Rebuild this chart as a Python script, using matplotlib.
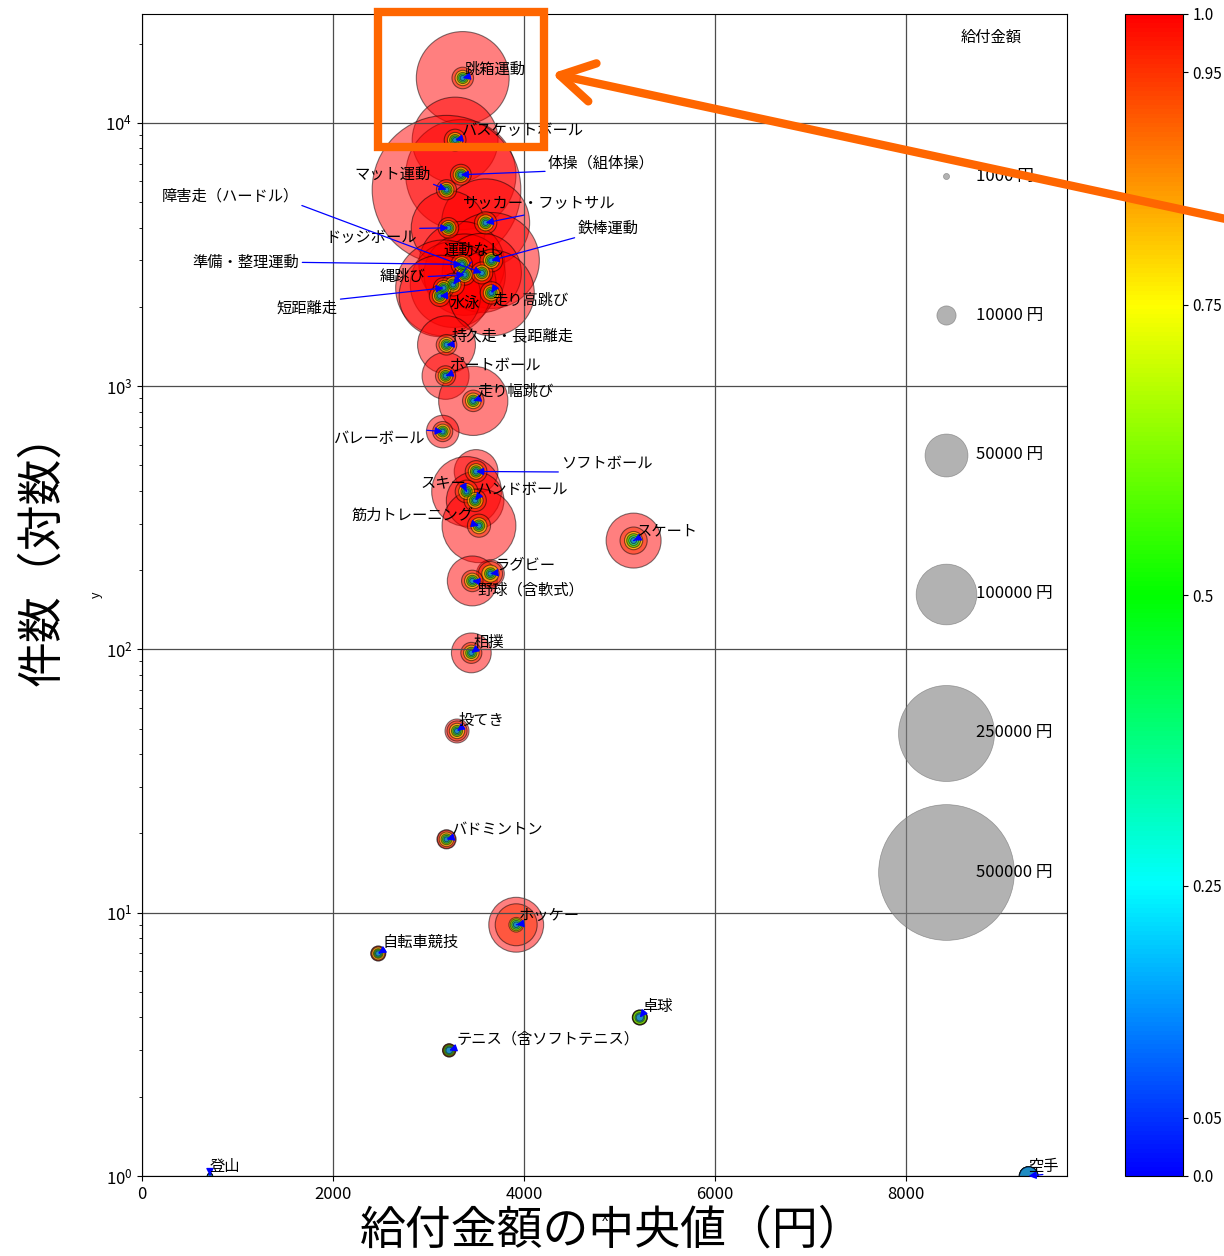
import numpy as np
import matplotlib
matplotlib.use('Agg')
import matplotlib.pyplot as plt
from matplotlib.colors import LinearSegmentedColormap, Normalize
from matplotlib.cm import ScalarMappable
from matplotlib.patches import Rectangle, FancyArrowPatch

plt.rcParams['font.family'] = ['Noto Sans CJK JP', 'DejaVu Sans']

# data: per-sport benefit quantiles (yen) and case counts
sports = ['跳箱運動', 'バスケットボール', '体操（組体操）', 'マット運動', 'サッカー・フットサル',
          'ドッジボール', '鉄棒運動', '準備・整理運動', '縄跳び', '障害走（ハードル）',
          '運動なし', '短距離走', '水泳', '走り高跳び', '持久走・長距離走',
          'ポートボール', '走り幅跳び', 'バレーボール', 'ソフトボール', 'スキー',
          'ハンドボール', '筋力トレーニング', 'スケート', 'ラグビー', '野球（含軟式）',
          '相撲', '投てき', 'バドミントン', 'ホッケー', '自転車競技',
          '卓球', 'テニス（含ソフトテニス）', '登山', '空手']
counts = [14800, 8600, 6350, 5570, 4170,
          3990, 3000, 2900, 2650, 2690,
          2430, 2360, 2200, 2260, 1435,
          1094, 879, 672, 474, 398,
          368, 295, 259, 194, 182,
          97, 49, 19, 9, 7,
          4, 3, 1, 1]
q005 = [760, 720, 780, 700, 800, 720, 820, 750, 760, 790, 700, 690, 680, 800, 700,
        700, 780, 700, 800, 780, 790, 780, 1000, 800, 780, 780, 750, 700, 900, 800,
        1500, 1200, 712, 9288]
q025 = [1700, 1650, 1700, 1600, 1800, 1650, 1800, 1700, 1700, 1800, 1600, 1550, 1550, 1800, 1600,
        1600, 1750, 1550, 1800, 1700, 1750, 1750, 2500, 1800, 1750, 1700, 1650, 1600, 2000, 1500,
        2500, 2000, 712, 9288]
q050 = [3360, 3280, 3340, 3190, 3600, 3210, 3660, 3350, 3380, 3560, 3260, 3160, 3120, 3660, 3190,
        3180, 3470, 3150, 3500, 3400, 3490, 3530, 5150, 3650, 3460, 3450, 3300, 3190, 3920, 2475,
        5215, 3218, 712, 9288]
q075 = [6400, 6300, 6300, 5900, 7000, 6000, 7000, 6400, 6300, 6800, 6500, 6000, 6000, 7000, 6000,
        5800, 6600, 6000, 6600, 6800, 6800, 7000, 9000, 8000, 6500, 6500, 6400, 5800, 5800, 4500,
        5600, 4000, 712, 9288]
q095 = [12600, 12800, 11800, 11000, 13500, 11500, 14000, 12500, 12000, 13000, 14000, 11500, 12000, 13500, 11500,
        11000, 12500, 11000, 12800, 14000, 13500, 14500, 20000, 16000, 12500, 12000, 11000, 9000, 47700, 5800,
        6000, 4600, 712, 9288]
q100 = [234000, 200000, 330000, 600000, 210000, 150000, 250000, 200000, 180000, 170000, 200000, 250000, 180000, 200000, 91000,
        60000, 130000, 28800, 52000, 132000, 90000, 148000, 82000, 21000, 67600, 43000, 15600, 10000, 81700, 6100,
        6100, 4800, 712, 9288]
levels = [0.05, 0.25, 0.5, 0.75, 0.95, 1.0]
cbar_ticks = [0.0, 0.05, 0.25, 0.5, 0.75, 0.95, 1.0]
legend_yen = [1000, 10000, 50000, 100000, 250000, 500000]

# label placement (pixels from the point, +dy = down)
label_offsets = {
    '跳箱運動': (2, -9), 'バスケットボール': (6, -10), '体操（組体操）': (87, -12),
    'マット運動': (-92, -15), 'サッカー・フットサル': (-24, -19), 'ドッジボール': (-123, 9),
    '鉄棒運動': (86, -32), '準備・整理運動': (-269, -2), '縄跳び': (-85, 2),
    '障害走（ハードル）': (-320, -77), '運動なし': (-10, -34), '短距離走': (-167, 20),
    '水泳': (10, 8), '走り高跳び': (1, 7), '持久走・長距離走': (5, -9),
    'ポートボール': (4, -10), '走り幅跳び': (4, -10), 'バレーボール': (-110, 7),
    'ソフトボール': (85, -8), 'スキー': (-46, -9), 'ハンドボール': (2, -11),
    '筋力トレーニング': (-127, -10), 'スケート': (3, -10), 'ラグビー': (4, -9),
    '野球（含軟式）': (5, 9), '相撲': (2, -10), '投てき': (2, -10),
    'バドミントン': (5, -10), 'ホッケー': (3, -9), '自転車競技': (4, -11),
    '卓球': (2, -11), 'テニス（含ソフトテニス）': (7, -11), '登山': (0, -10), '空手': (-1, -10),
}

SIZE = 0.0191  # points^2 per yen
W, H = 1224, 1256

cmap = LinearSegmentedColormap.from_list(
    'q', [(0.0, '#0000ff'), (0.25, '#00ffff'), (0.5, '#00ff00'), (0.75, '#ffff00'), (1.0, '#ff0000')])

fig = plt.figure(figsize=(W / 100, H / 100), dpi=100)
ax = fig.add_axes([142 / W, 1 - 1176 / H, 925 / W, 1162 / H])

# biggest quantile first so the small rings stay on top
qs = [q005, q025, q050, q075, q095, q100]
for lev, vals in reversed(list(zip(levels, qs))):
    ax.scatter(q050, counts, s=np.array(vals) * SIZE, c=[lev] * len(vals), cmap=cmap,
               vmin=0, vmax=1, alpha=0.5, edgecolors='k', linewidths=0.8)

for name, x, y in zip(sports, q050, counts):
    dx, dy = label_offsets[name]
    rx = 0.0 if dx >= 0 else (1.0 if dx < -40 else 0.5)
    ry = 0.0 if dy < -5 else (1.0 if dy > 5 else 0.5)
    ax.annotate(name, xy=(x, y), xytext=(dx, -dy), textcoords='offset pixels',
                ha='left', va='center', fontsize=11, zorder=6,
                arrowprops=dict(arrowstyle='-|>', color='blue', lw=0.9,
                                shrinkA=0, shrinkB=0, relpos=(rx, ry)))

ax.set_yscale('log')
ax.set_xlim(0, 9690)
ax.set_ylim(1, 25900)
ax.grid(True, which='major', color='0.3', lw=0.9)
ax.tick_params(labelsize=12)
ax.set_xlabel('x', fontsize=9, labelpad=6)
ax.set_ylabel('y', fontsize=9, labelpad=2)

for v in legend_yen:
    ax.scatter([], [], s=v * SIZE, c='gray', alpha=0.6, edgecolors='0.4', linewidths=0.5,
               label=f'{v} 円')
ax.legend(loc='upper right', frameon=False, title='給付金額', fontsize=12, title_fontsize=11,
          labelspacing=7.33, scatterpoints=1, borderpad=0.25, borderaxespad=0.62)

cax = fig.add_axes([1125 / W, 1 - 1176 / H, 58 / W, 1162 / H])
cb = fig.colorbar(ScalarMappable(norm=Normalize(0, 1), cmap=cmap), cax=cax, ticks=cbar_ticks)
cb.ax.set_yticklabels(['0.0', '0.05', '0.25', '0.5', '0.75', '0.95', '1.0'])
cb.ax.tick_params(labelsize=11)

fig.text(612 / W, 1 - 1230 / H, '給付金額の中央値（円）', fontsize=33, ha='center', va='center')
fig.text(42 / W, 1 - 548 / H, '件数（対数）', fontsize=33, ha='center', va='center', rotation=90)

# orange highlight overlay
orange = '#ff6600'
fig.add_artist(Rectangle((378 / W, 1 - 146.5 / H), (543.5 - 378) / W, (146.5 - 11.5) / H,
                         transform=fig.transFigure, fill=False, ec=orange, lw=6))
fig.add_artist(FancyArrowPatch((1235 / W, 1 - 221 / H), (549 / W, 1 - 73 / H),
                               transform=fig.transFigure, arrowstyle='->,head_length=1.2,head_width=0.7',
                               mutation_scale=20, lw=6, color=orange))

fig.savefig('out.png', dpi=100)
